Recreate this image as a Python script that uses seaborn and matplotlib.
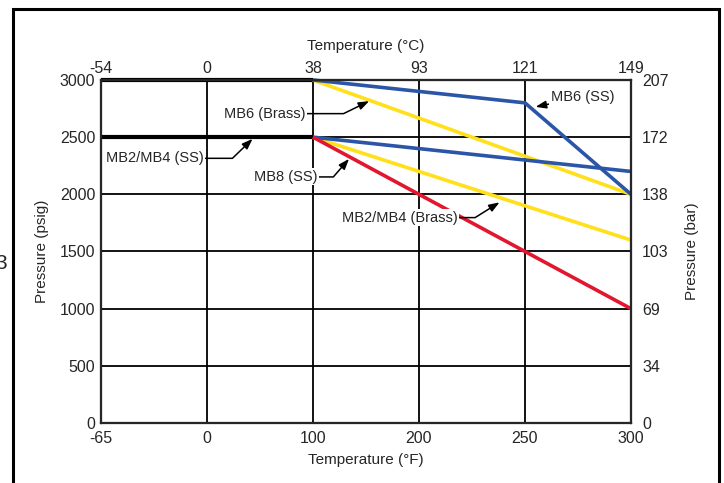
import numpy as np
import pandas as pd
import matplotlib
matplotlib.use("Agg")
import matplotlib.pyplot as plt
import seaborn as sns
from matplotlib.patches import Rectangle

# Axis categories (the temperature axis is evenly spaced, not linear)
temp_f_ticks = [-65, 0, 100, 200, 250, 300]
temp_c_ticks = [-54, 0, 38, 93, 121, 149]
psig_ticks = [0, 500, 1000, 1500, 2000, 2500, 3000]
bar_ticks = [0, 34, 69, 103, 138, 172, 207]

# Pressure ratings (temperature in °F, pressure in psig)
limit_hi_f = [-65, 100]
limit_hi_p = [3000, 3000]
limit_lo_f = [-65, 100]
limit_lo_p = [2500, 2500]
mb6_ss_f = [100, 250, 300]
mb6_ss_p = [3000, 2800, 2000]
mb24_ss_f = [100, 300]
mb24_ss_p = [2500, 2200]
mb6_brass_f = [100, 300]
mb6_brass_p = [3000, 2000]
mb24_brass_f = [100, 300]
mb24_brass_p = [2500, 1600]
mb8_ss_f = [100, 250, 300]
mb8_ss_p = [2500, 1500, 1000]

BLUE = "#2b55a6"
YELLOW = "#ffe01a"
RED = "#e2162f"

sns.set_style("white")
plt.rcParams["font.family"] = ["Liberation Sans", "DejaVu Sans"]
plt.rcParams["font.size"] = 10

# piecewise scale so the uneven temperature ticks sit evenly
pos = np.arange(len(temp_f_ticks), dtype=float)


def fwd_scale(x):
    return np.interp(np.asarray(x, dtype=float), temp_f_ticks, pos)


def inv_scale(x):
    return np.interp(np.asarray(x, dtype=float), pos, temp_f_ticks)


fig = plt.figure(figsize=(7.24, 4.83), dpi=100)
ax = fig.add_axes([0.1395, 0.1242, 0.732, 0.7102])
ax.set_xscale("function", functions=(fwd_scale, inv_scale))

series = [
    (limit_hi_f, limit_hi_p, "black", 3.0),
    (limit_lo_f, limit_lo_p, "black", 3.0),
    (mb6_brass_f, mb6_brass_p, YELLOW, 2.6),
    (mb24_brass_f, mb24_brass_p, YELLOW, 2.6),
    (mb6_ss_f, mb6_ss_p, BLUE, 2.6),
    (mb24_ss_f, mb24_ss_p, BLUE, 2.6),
    (mb8_ss_f, mb8_ss_p, RED, 2.6),
]
for xs, ys, col, lw in series:
    df = pd.DataFrame({"temp": xs, "pressure": ys})
    sns.lineplot(data=df, x="temp", y="pressure", color=col, linewidth=lw,
                 ax=ax, zorder=3, solid_capstyle="butt", clip_on=False)

TICK_FS = 11.5
LAB_FS = 11

ax.set_xlim(-65, 300)
ax.set_ylim(0, 3000)
ax.set_xticks(temp_f_ticks)
ax.set_xticklabels([str(t) for t in temp_f_ticks])
ax.set_yticks(psig_ticks)
ax.set_yticklabels([str(p) for p in psig_ticks])
ax.grid(True, color="black", linewidth=1.3)
ax.set_axisbelow(True)
ax.tick_params(axis="x", length=0, pad=6, labelsize=TICK_FS)
ax.tick_params(axis="y", length=0, pad=4, labelsize=TICK_FS)
ax.set_xlabel("Temperature (°F)", fontsize=LAB_FS, labelpad=5)
ax.set_ylabel("Pressure (psig)", fontsize=LAB_FS, labelpad=8)
for sp in ax.spines.values():
    sp.set_linewidth(1.5)
    sp.set_color("black")

# top axis in °C
axt = ax.twiny()
axt.set_xscale("function", functions=(fwd_scale, inv_scale))
axt.set_xlim(ax.get_xlim())
axt.set_xticks(temp_f_ticks)
axt.set_xticklabels([str(t) for t in temp_c_ticks])
axt.tick_params(length=0, pad=3, labelsize=TICK_FS)
axt.set_xlabel("Temperature (°C)", fontsize=LAB_FS, labelpad=8)

# right axis in bar
axr = ax.twinx()
axr.set_ylim(ax.get_ylim())
axr.set_yticks(psig_ticks)
axr.set_yticklabels([str(b) for b in bar_ticks])
axr.tick_params(length=0, pad=8, labelsize=TICK_FS)
axr.set_ylabel("Pressure (bar)", fontsize=LAB_FS, labelpad=12)
for a in (axt, axr):
    for sp in a.spines.values():
        sp.set_linewidth(1.5)
    a.grid(False)

box = dict(boxstyle="square,pad=0.1", fc="white", ec="none")
arrow = dict(arrowstyle="-|>,head_length=0.6,head_width=0.22", color="black",
             lw=1.1, shrinkA=0, shrinkB=0)


def label(text, tip, offset, ang, ha="right"):
    props = dict(arrow)
    if ang is None:
        props["connectionstyle"] = "arc3"
    else:
        props["connectionstyle"] = f"angle,angleA=0,angleB={ang},rad=0"
    ax.annotate(text, xy=tip, xytext=offset, textcoords="offset points",
                ha=ha, va="center", fontsize=10.5, bbox=box, arrowprops=props,
                zorder=5)


label("MB6 (Brass)", (153, 2815), (-46, -9), 26)
label("MB6 (SS)", (255, 2765), (11, 7), None, ha="left")
label("MB2/MB4 (SS)", (43, 2485), (-35, -14), 44)
label("MB8 (SS)", (134, 2310), (-23, -13), 49)
label("MB2/MB4 (Brass)", (238, 1930), (-30, -11), 32)

# outer frame and cropped text of the source page
fig.add_artist(Rectangle((0.018, -0.05), 0.975, 1.031, transform=fig.transFigure,
                         fill=False, ec="black", lw=2.2))
fig.text(-0.006, 0.455, "3", fontsize=15, ha="left", va="center")

fig.savefig("out.png", dpi=100)
